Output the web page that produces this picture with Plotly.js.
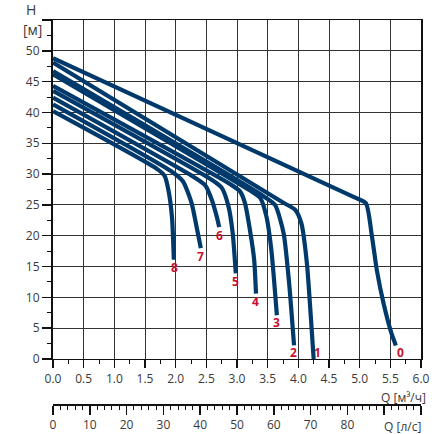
<!DOCTYPE html>
<html>
<head>
<meta charset="utf-8">
<script src="https://cdn.plot.ly/plotly-3.0.1.min.js"></script>
<style>
  html, body { margin: 0; padding: 0; background: #fff; }
  #chart { width: 432px; height: 434px; }
</style>
</head>
<body>
<div id="chart"></div>
<script>
// Curve data: Q [m3/h] and H [m] for pump curves 0..8
const curveNames = ['0','1','2','3','4','5','6','7','8'];
const q0 = [0, 4.9, 5.1, 5.2, 5.28, 5.39, 5.52, 5.59];
const h0 = [48.8, 26.3, 25.3, 19.9, 14.4, 9.0, 4.1, 2.2];
const q1 = [0, 3.75, 3.95, 4.05, 4.14, 4.20, 4.25];
const h1 = [48.1, 25.4, 24.2, 22.0, 15.5, 7.4, 0];
const q2 = [0, 3.45, 3.62, 3.76, 3.85, 3.93];
const h2 = [46.7, 26.3, 25.0, 20.4, 12.3, 2.2];
const q3 = [0, 3.2, 3.38, 3.48, 3.56, 3.65];
const h3 = [46.2, 27.4, 26.1, 23.1, 17.7, 7.1];
const q4 = [0, 2.9, 3.05, 3.13, 3.21, 3.28, 3.31];
const h4 = [44.3, 28.3, 27.2, 25.3, 21.0, 16.1, 10.6];
const q5 = [0, 2.6, 2.75, 2.86, 2.93, 2.98];
const h5 = [43.5, 29.0, 27.8, 24.8, 20.4, 13.9];
const q6 = [0, 2.3, 2.48, 2.59, 2.67, 2.71];
const h6 = [42.4, 29.5, 28.2, 25.8, 23.1, 21.4];
const q7 = [0, 1.95, 2.12, 2.26, 2.34, 2.41];
const h7 = [41.3, 30.3, 28.8, 25.3, 21.5, 18.0];
const q8 = [0, 1.70, 1.82, 1.88, 1.94, 1.97];
const h8 = [40.2, 30.8, 29.7, 27.5, 23.0, 16.1];

// Curve label positions (Q, H)
const labelQ = [5.66, 4.32, 3.92, 3.65, 3.30, 2.98, 2.71, 2.41, 1.98];
const labelH = [1.1, 1.1, 1.1, 6.0, 9.4, 12.5, 20.0, 16.6, 14.9];

// Axis tick labels
const yTickVals = [0,5,10,15,20,25,30,35,40,45,50,55];
const yTickText = ['0','5','10','15','20','25','30','35','40','45','50',''];
const x2TickVals = [0,10,20,30,40,50,60,70,80,90,100];
const x2TickText = ['0','10','20','30','40','50','60','70','80','',''];

const Qs = [q0,q1,q2,q3,q4,q5,q6,q7,q8];
const Hs = [h0,h1,h2,h3,h4,h5,h6,h7,h8];

const lineColor = '#003a6c';
const labelColor = '#c8102e';
const gridColor = '#333333';
const textColor = '#3a3a3a';
const font = 'Open Sans, Noto Sans, sans-serif';

const traces = Qs.map((q, i) => ({
  x: q, y: Hs[i], type: 'scatter', mode: 'lines',
  line: {color: lineColor, width: 4.2, shape: 'spline', smoothing: 0.6},
  hoverinfo: 'skip', showlegend: false, name: curveNames[i]
}));
// invisible trace to activate secondary axis
traces.push({x: [0, 100], y: [null, null], xaxis: 'x2', yaxis: 'y',
  type: 'scatter', mode: 'lines', showlegend: false, hoverinfo: 'skip'});

const annotations = curveNames.map((n, i) => ({
  x: labelQ[i], y: labelH[i], xref: 'x', yref: 'y', text: '<b>' + n + '</b>',
  showarrow: false, font: {family: font, size: 12, color: labelColor},
  xanchor: 'center', yanchor: 'middle'
}));
annotations.push(
  {xref: 'paper', yref: 'paper', x: 0, y: 1, xshift: -22, yshift: 11, text: 'H',
   showarrow: false, font: {family: font, size: 14, color: textColor}, xanchor: 'center', yanchor: 'middle'},
  {xref: 'paper', yref: 'paper', x: 0, y: 1, xshift: -21, yshift: -9, text: '[м]',
   showarrow: false, font: {family: font, size: 14, color: textColor}, xanchor: 'center', yanchor: 'middle'},
  {xref: 'paper', yref: 'paper', x: 1, y: 0, xshift: 7, yshift: 8, text: 'Q [м³/ч]',
   showarrow: false, font: {family: font, size: 12, color: textColor}, xanchor: 'right', yanchor: 'middle'},
  {xref: 'paper', yref: 'paper', x: 1, y: 0, xshift: 2, yshift: -21, text: 'Q [л/с]',
   showarrow: false, font: {family: font, size: 12, color: textColor}, xanchor: 'right', yanchor: 'middle'}
);

const layout = {
  width: 432, height: 434,
  margin: {l: 53, r: 11, t: 20, b: 29},
  paper_bgcolor: '#fff', plot_bgcolor: '#fff',
  font: {family: font, size: 12, color: textColor},
  showlegend: false,
  xaxis: {
    range: [0, 6], tickmode: 'linear', tick0: 0, dtick: 0.5, tickformat: '.1f',
    showgrid: true, gridcolor: gridColor, gridwidth: 1,
    showline: true, linecolor: '#111', linewidth: 1.5, mirror: true,
    ticks: 'outside', ticklen: 8, tickwidth: 1.5, tickcolor: '#111',
    minor: {dtick: 0.25, ticks: 'outside', ticklen: 4, tickwidth: 1, tickcolor: '#111', showgrid: false},
    zeroline: false, fixedrange: true, anchor: 'y',
    tickfont: {family: font, size: 12, color: textColor}
  },
  xaxis2: {
    range: [0, 100], overlaying: 'x', anchor: 'free', position: 0, side: 'bottom',
    tickmode: 'array', tickvals: x2TickVals, ticktext: x2TickText,
    showgrid: false, showline: true, linecolor: '#111', linewidth: 2,
    ticks: 'outside', ticklen: 9, tickwidth: 1.5, tickcolor: '#111',
    minor: {dtick: 2, ticks: 'outside', ticklen: 4, tickwidth: 1, tickcolor: '#111', showgrid: false},
    zeroline: false, fixedrange: true, ticklabelstandoff: 0,
    tickfont: {family: font, size: 12, color: textColor}
  },
  yaxis: {
    range: [0, 55], domain: [0.1195, 1], tickmode: 'array', tickvals: yTickVals, ticktext: yTickText,
    showgrid: true, gridcolor: gridColor, gridwidth: 1,
    showline: true, linecolor: '#111', linewidth: 2, mirror: true,
    ticks: 'outside', ticklen: 9, tickwidth: 1.5, tickcolor: '#111',
    minor: {dtick: 2.5, ticks: 'outside', ticklen: 4, tickwidth: 1, tickcolor: '#111', showgrid: false},
    zeroline: false, fixedrange: true,
    tickfont: {family: font, size: 12, color: textColor}
  },
  annotations: annotations
};

Plotly.newPlot('chart', traces, layout, {staticPlot: true, displayModeBar: false});
</script>
</body>
</html>
